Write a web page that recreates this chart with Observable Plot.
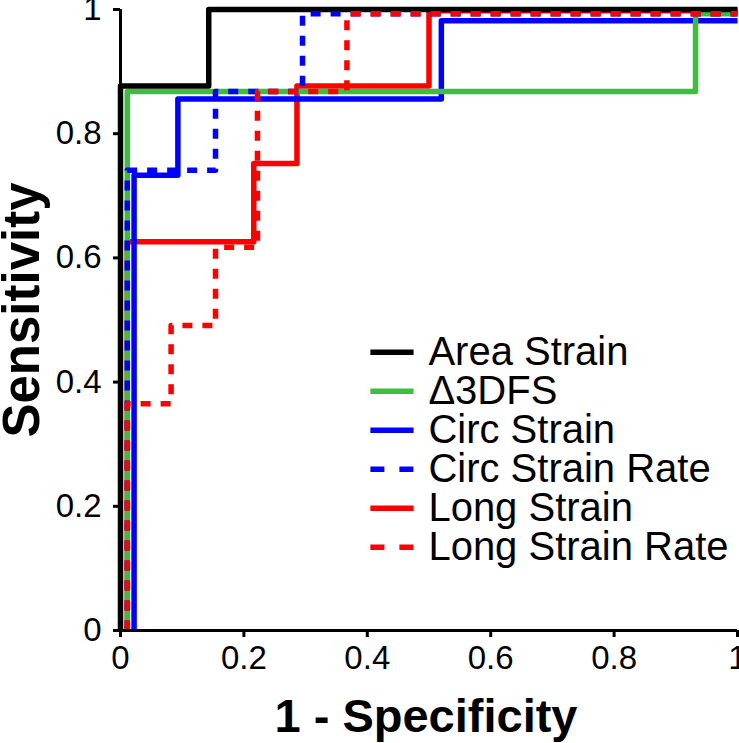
<!DOCTYPE html>
<html><head><meta charset="utf-8">
<script src="https://cdn.jsdelivr.net/npm/d3@7"></script>
<script src="https://cdn.jsdelivr.net/npm/@observablehq/plot@0.6"></script>
<style>html,body{margin:0;padding:0;background:#fff}</style>
</head><body><div id="chart"></div>
<script>
// ---- data ----
const seriesNames = ["Area Strain", "Δ3DFS", "Circ Strain", "Circ Strain Rate", "Long Strain", "Long Strain Rate"];
const seriesColors = ["#000000", "#3cbf3c", "#0000ff", "#0000ff", "#ff0000", "#ff0000"];
const seriesDashed = [false, false, false, true, false, true];

const areaStrainX = [0, 0, 0.143, 0.143, 1];
const areaStrainY = [0, 0.877, 0.877, 1, 1];
const d3dfsX = [0.011, 0.011, 0.932, 0.932, 1];
const d3dfsY = [0, 0.868, 0.868, 0.993, 0.993];
const circStrainX = [0.022, 0.022, 0.093, 0.093, 0.52, 0.52, 1];
const circStrainY = [0, 0.733, 0.733, 0.856, 0.856, 0.982, 0.982];
const circRateX = [0.011, 0.011, 0.154, 0.154, 0.295, 0.295, 1];
const circRateY = [0, 0.741, 0.741, 0.868, 0.868, 0.993, 0.993];
const longStrainX = [0.011, 0.011, 0.216, 0.216, 0.286, 0.286, 0.5, 0.5, 1];
const longStrainY = [0, 0.626, 0.626, 0.752, 0.752, 0.877, 0.877, 0.998, 0.998];
const longRateX = [0.011, 0.011, 0.082, 0.082, 0.154, 0.154, 0.222, 0.222, 0.367, 0.367, 1];
const longRateY = [0, 0.365, 0.365, 0.491, 0.491, 0.617, 0.617, 0.868, 0.868, 0.993, 0.993];

const seriesX = [areaStrainX, d3dfsX, circStrainX, circRateX, longStrainX, longRateX];
const seriesY = [areaStrainY, d3dfsY, circStrainY, circRateY, longStrainY, longRateY];

const xTicks = [0, 0.2, 0.4, 0.6, 0.8, 1];
const xTickLabels = ["0", "0.2", "0.4", "0.6", "0.8", "1"];
const yTicks = [0, 0.2, 0.4, 0.6, 0.8, 1];
const yTickLabels = ["0", "0.2", "0.4", "0.6", "0.8", "1"];
const xLabel = "1 - Specificity";
const yLabel = "Sensitivity";

// ---- layout ----
const drawOrder = [4, 2, 1, 0, 3, 5];
const legendX1 = 0.405, legendX2 = 0.475, legendTextX = 0.499, legendTop = 0.448, legendStep = 0.0628;
const FONT = "'Liberation Sans', Arial, Helvetica, sans-serif";

const lineMarks = drawOrder.map(i => {
  const rows = seriesX[i].map((x, k) => ({x, y: seriesY[i][k]}));
  return Plot.line(rows, {
    x: "x", y: "y",
    stroke: seriesColors[i],
    strokeWidth: 5.5,
    strokeDasharray: seriesDashed[i] ? "10,10" : null,
    strokeLinecap: "butt",
    strokeLinejoin: "round"
  });
});

const legendRows = seriesNames.map((name, i) => ({
  name, color: seriesColors[i], dashed: seriesDashed[i],
  y: legendTop - i * legendStep
}));

const fmt = (ticks, labels) => d => labels[ticks.findIndex(t => Math.abs(t - d) < 1e-9)];

const chart = Plot.plot({
  width: 739,
  height: 743,
  marginLeft: 120,
  marginRight: 2,
  marginTop: 9,
  marginBottom: 113,
  style: {fontFamily: FONT, fontSize: "33px", color: "#000", background: "#fff"},
  x: {domain: [0, 1]},
  y: {domain: [0, 1]},
  marks: [
    Plot.axisX({ticks: xTicks, tickFormat: fmt(xTicks, xTickLabels), tickSize: 7, tickPadding: 8, strokeWidth: 3, fontSize: 33, label: null}),
    Plot.axisY({ticks: yTicks, tickFormat: fmt(yTicks, yTickLabels), tickSize: 7, tickPadding: 12, strokeWidth: 3, fontSize: 33, label: null}),
    ...lineMarks,
    Plot.ruleY([0], {stroke: "#000", strokeWidth: 3}),
    Plot.ruleX([0], {stroke: "#000", strokeWidth: 3}),
    ...legendRows.map(r => Plot.link([r], {
      x1: () => legendX1, x2: () => legendX2, y1: "y", y2: "y",
      stroke: r.color, strokeWidth: 5.5,
      strokeDasharray: r.dashed ? "14,15" : null, strokeLinecap: "butt"
    })),
    Plot.text(legendRows, {x: () => legendTextX, y: "y", text: "name", textAnchor: "start", lineAnchor: "middle", fontSize: 40, fill: "#000"}),
    Plot.text([xLabel], {frameAnchor: "bottom", text: d => d, dy: 86, dx: -3, textAnchor: "middle", lineAnchor: "middle", fontSize: 47, fontWeight: "bold", fill: "#000"}),
    Plot.text([yLabel], {frameAnchor: "left", text: d => d, dx: -98, dy: -10, rotate: -90, textAnchor: "middle", lineAnchor: "middle", fontSize: 51, fontWeight: "bold", fill: "#000"})
  ]
});
document.getElementById("chart").appendChild(chart);
</script>
</body></html>
